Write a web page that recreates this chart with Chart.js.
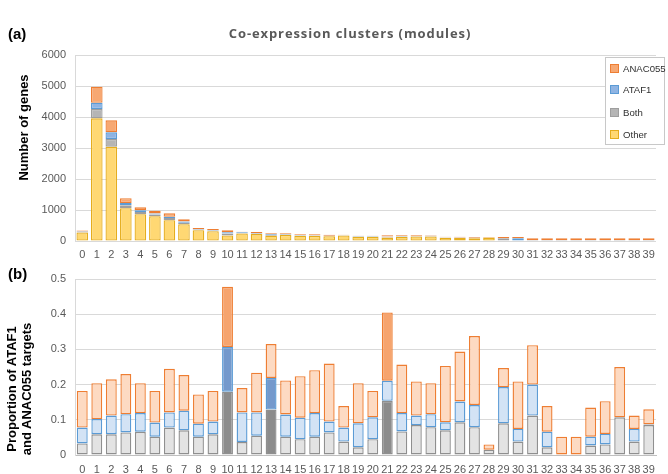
<!DOCTYPE html>
<html>
<head>
<meta charset="utf-8">
<script src="https://cdn.jsdelivr.net/npm/chart.js@4.4.1/dist/chart.umd.min.js"></script>
<style>
  html, body { margin:0; padding:0; background:#fff; }
  body { width:668px; height:474px; position:relative; overflow:hidden; font-family:"Liberation Sans", Arial, sans-serif; }
  #topWrap { position:absolute; left:0; top:0; width:668px; height:262px; }
  #botWrap { position:absolute; left:0; top:262px; width:668px; height:212px; }
  .lbl { position:absolute; font-weight:bold; font-size:15px; color:#000; }
  #title { position:absolute; top:24px; left:0; width:700px; text-align:center; font-family:"Open Sans", sans-serif; font-weight:bold; font-size:13px; letter-spacing:0.9px; color:#595959; }
  .ytitle { position:absolute; font-weight:bold; font-size:13px; color:#000; white-space:nowrap; transform:rotate(-90deg); transform-origin:center center; text-align:center; }
  #legend { position:absolute; left:605px; top:57px; width:58px; height:86px; border:1px solid #c8c8c8; background:#fff; font-size:9.6px; color:#303030; }
  .li { position:absolute; left:4px; height:12px; line-height:12px; white-space:nowrap; }
  .sw { display:inline-block; width:7px; height:7px; vertical-align:middle; margin-right:4px; border:1px solid; position:relative; top:-1px; }
</style>
</head>
<body>
<div id="topWrap"><canvas id="c1" width="668" height="262"></canvas></div>
<div id="botWrap"><canvas id="c2" width="668" height="212"></canvas></div>
<div class="lbl" style="left:8px;top:25px;">(a)</div>
<div class="lbl" style="left:8px;top:265px;">(b)</div>
<div id="title">Co-expression clusters (modules)</div>
<div class="ytitle" style="left:-37px;top:120px;width:120px;">Number of genes</div>
<div class="ytitle" style="left:-51px;top:374px;width:140px;line-height:15px;">Proportion of ATAF1<br>and ANAC055 targets</div>
<div id="legend"></div>
<script>
// ---------- DATA ----------
const modules = ["0","1","2","3","4","5","6","7","8","9","10","11","12","13","14","15","16","17","18","19",
                 "20","21","22","23","24","25","26","27","28","29","30","31","32","33","34","35","36","37","38","39"];

// (a) number of genes per module, by category
const otherGenes  = [278,3957,3043,1060,864,800,673,540,347,316,180,244,222,172,194,167,164,151,176,136,
                     140,109,136,144,146,105,95,86,110,0,0,0,0,0,0,0,0,0,0,0];
const bothGenes   = [11,300,247,90,72,51,70,49,22,23,62,11,16,32,13,10,11,13,8,4,
                     8,28,12,16,14,10,13,10,4,90,0,30,30,30,30,30,30,30,30,30];
const ataf1Genes  = [15,205,215,72,58,39,38,39,15,14,44,25,19,22,16,13,14,6,8,12,
                     11,10,10,5,7,3,8,8,0,0,90,0,0,0,0,0,0,0,0,0];
const anac055Genes= [36,515,387,160,92,88,111,71,35,34,59,21,33,24,24,25,26,34,12,20,
                     13,36,25,18,16,22,19,25,15,39,39,56,56,56,56,56,56,56,56,56];

// (b) proportion of ATAF1 and ANAC055 targets
const bothProp    = [0.033,0.059,0.059,0.064,0.066,0.052,0.078,0.070,0.052,0.059,0.180,0.037,0.055,0.129,0.052,0.045,0.052,0.064,0.038,0.022,
                     0.045,0.154,0.067,0.085,0.079,0.070,0.093,0.079,0.015,0.090,0.038,0.112,0.022,0,0,0.027,0.030,0.107,0.038,0.085];
const ataf1Prop   = [0.045,0.043,0.053,0.052,0.053,0.040,0.043,0.056,0.037,0.036,0.127,0.084,0.066,0.090,0.063,0.061,0.067,0.031,0.040,0.068,
                     0.062,0.057,0.052,0.027,0.037,0.023,0.059,0.063,0,0.103,0.036,0.088,0.044,0,0,0.025,0.030,0,0.036,0.002];
const anac055Prop = [0.104,0.102,0.103,0.114,0.085,0.090,0.124,0.101,0.083,0.087,0.171,0.069,0.113,0.096,0.097,0.118,0.122,0.165,0.061,0.114,
                     0.075,0.194,0.138,0.097,0.088,0.160,0.142,0.196,0.015,0.054,0.135,0.112,0.073,0.052,0.052,0.083,0.093,0.143,0.038,0.043];

// modules whose segment is highlighted (dark fill) in panel (b)
const bothHighlighted    = ["10","13","21"];
const ataf1Highlighted   = ["10","13"];
const anac055Highlighted = ["10","21"];

const yTicksA = [0,1000,2000,3000,4000,5000,6000];
const yTicksB = [0,0.1,0.2,0.3,0.4,0.5];

// ---------- STYLE ----------
const TICK_FONT = {family:"Liberation Sans, Arial, sans-serif", size:11};
const TICK_COL = '#595959';
const GRID_COL = '#d9d9d9';

const colA = {
  other:   {bg:'#ffd873', bd:'#e5ad1e'},
  both:    {bg:'#b5b5b5', bd:'#9e9e9e'},
  ataf1:   {bg:'#8fb4e3', bd:'#5b9bd5'},
  anac055: {bg:'#f7a872', bd:'#ee7e33'}
};
const colB = {
  both:    {light:'#e3e3e3', dark:'#8c8c8c', bd:'#8f8f8f'},
  ataf1:   {light:'#d3e3f5', dark:'#7499cc', bd:'#5b9bd5'},
  anac055: {light:'#fddac2', dark:'#f6a46e', bd:'#ee7e33'}
};

// ---------- CHART (a) ----------
function dsA(label, data, c){
  return {label, data, backgroundColor:c.bg, borderColor:c.bd, borderWidth:1.3, borderSkipped:false, inflateAmount:0,
          barPercentage:0.8, categoryPercentage:1.0, stack:'s'};
}
new Chart(document.getElementById('c1'), {
  type:'bar',
  data:{ labels:modules, datasets:[
    dsA('Other', otherGenes, colA.other),
    dsA('Both', bothGenes, colA.both),
    dsA('ATAF1', ataf1Genes, colA.ataf1),
    dsA('ANAC055', anac055Genes, colA.anac055)
  ]},
  options:{
    responsive:false, animation:false,
    layout:{padding:{top:55, right:12, left:0, bottom:0}},
    plugins:{legend:{display:false}, tooltip:{enabled:false}},
    scales:{
      x:{ stacked:true, grid:{display:false, drawTicks:false}, border:{display:false},
          ticks:{font:TICK_FONT, color:TICK_COL, autoSkip:false, maxRotation:0, minRotation:0, padding:7},
          afterFit: s => { s.height = 21; } },
      y:{ stacked:true, min:0, max:6000,
          afterBuildTicks: s => { s.ticks = yTicksA.map(v => ({value:v})); },
          grid:{color:GRID_COL, drawTicks:false}, border:{display:true, color:GRID_COL},
          ticks:{font:TICK_FONT, color:TICK_COL, padding:9, callback: v => String(v)},
          afterFit: s => { s.width = 75; } }
    }
  }
});

// ---------- CHART (b) ----------
function colorsFor(list, c){
  return modules.map(m => list.includes(m) ? c.dark : c.light);
}
function dsB(label, data, list, c){
  return {label, data, backgroundColor:colorsFor(list, c), borderColor:c.bd, borderWidth:1.4, borderSkipped:false, inflateAmount:0,
          barPercentage:0.75, categoryPercentage:1.0, stack:'s'};
}
new Chart(document.getElementById('c2'), {
  type:'bar',
  data:{ labels:modules, datasets:[
    dsB('Both', bothProp, bothHighlighted, colB.both),
    dsB('ATAF1', ataf1Prop, ataf1Highlighted, colB.ataf1),
    dsB('ANAC055', anac055Prop, anac055Highlighted, colB.anac055)
  ]},
  options:{
    responsive:false, animation:false,
    layout:{padding:{top:17, right:12, left:0, bottom:0}},
    plugins:{legend:{display:false}, tooltip:{enabled:false}},
    scales:{
      x:{ stacked:true, grid:{display:false, drawTicks:false}, border:{display:true, color:'#bfbfbf'},
          ticks:{font:TICK_FONT, color:TICK_COL, autoSkip:false, maxRotation:0, minRotation:0, padding:8},
          afterFit: s => { s.height = 19; } },
      y:{ stacked:true, min:0, max:0.5,
          afterBuildTicks: s => { s.ticks = yTicksB.map(v => ({value:v})); },
          grid:{color:GRID_COL, drawTicks:false}, border:{display:true, color:GRID_COL},
          ticks:{font:TICK_FONT, color:TICK_COL, padding:9, callback: v => String(v)},
          afterFit: s => { s.width = 75; } }
    }
  }
});

// ---------- LEGEND (a) ----------
const legendItems = [
  ['ANAC055', colA.anac055, 5],
  ['ATAF1', colA.ataf1, 26],
  ['Both', colA.both, 49],
  ['Other', colA.other, 71]
];
const lg = document.getElementById('legend');
legendItems.forEach(([name, c, top]) => {
  const d = document.createElement('div');
  d.className = 'li';
  d.style.top = top + 'px';
  d.innerHTML = '<span class="sw" style="background:'+c.bg+';border-color:'+c.bd+'"></span>' + name;
  lg.appendChild(d);
});
</script>
</body>
</html>
